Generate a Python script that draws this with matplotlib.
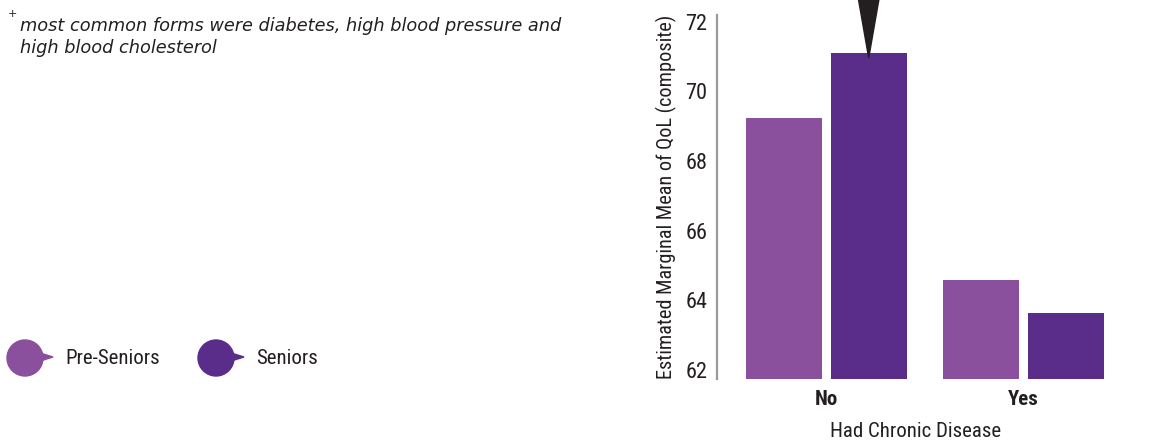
import matplotlib.pyplot as plt
from matplotlib.patches import Ellipse, Polygon
from matplotlib import font_manager

# estimated marginal means of QoL by chronic disease status
disease = ["No", "Yes"]
groups = ["Pre-Seniors", "Seniors"]
pre_seniors = [69.23, 64.58]
seniors = [71.11, 63.63]
y_ticks = [62, 64, 66, 68, 70, 72]

colors = ["#8a4f9d", "#5b2d8b"]
ink = "#231f20"

names = {f.name for f in font_manager.fontManager.ttflist}
cond = "Roboto Condensed" if "Roboto Condensed" in names else "DejaVu Sans"
plt.rcParams["font.family"] = [cond, "DejaVu Sans"]

fig = plt.figure(figsize=(11.5, 4.45), dpi=100)
ax = fig.add_axes([0.6235, 0.1483, 0.346, 0.8177])

x = [0, 1]
w = 0.386
off = 0.215
ax.bar([i - off for i in x], pre_seniors, width=w, color=colors[0], bottom=0)
ax.bar([i + off for i in x], seniors, width=w, color=colors[1], bottom=0)

ax.set_ylim(61.74, 72.19)
ax.set_xlim(-0.555, 1.465)
ax.set_yticks(y_ticks)
ax.set_yticklabels([str(t) for t in y_ticks], fontsize=16, color=ink)
ax.tick_params(axis="y", length=0, pad=7)
ax.set_xticks(x)
ax.set_xticklabels(disease, fontsize=15, fontweight="bold", color=ink)
ax.tick_params(axis="x", length=0, pad=8)

for s in ["top", "right", "bottom"]:
    ax.spines[s].set_visible(False)
ax.spines["left"].set_color("#9a9a9a")
ax.spines["left"].set_linewidth(1.6)

ax.set_ylabel("Estimated Marginal Mean of QoL (composite)", fontsize=14.6, color=ink, labelpad=6)
ax.set_xlabel("Had Chronic Disease", fontsize=15, color=ink, labelpad=9)

# pointer over the tallest bar
tip_x = x[0] + off
tip_y = seniors[0] - 0.15
ax.add_patch(Polygon([(tip_x - 0.063, 73.0), (tip_x + 0.063, 73.0), (tip_x, tip_y)],
                     closed=True, color=ink, clip_on=False, zorder=5))

# footnote
fig.text(0.007, 0.968, "+", fontsize=8, color=ink, va="center", family="DejaVu Sans")
fig.text(0.017, 0.962, "most common forms were diabetes, high blood pressure and\nhigh blood cholesterol",
         fontsize=12.8, style="italic", color=ink, va="top", linespacing=1.3,
         family="DejaVu Sans")

# legend with bubble markers
for cx, label, col in [(25, groups[0], colors[0]), (216, groups[1], colors[1])]:
    cy = 445 - 358
    r = 18
    fig.patches.append(Ellipse((cx / 1150, cy / 445), 2 * r / 1150, 2 * r / 445,
                               transform=fig.transFigure, color=col))
    fig.patches.append(Polygon([((cx + 12) / 1150, (cy + 6) / 445),
                                ((cx + 28) / 1150, (cy + 1) / 445),
                                ((cx + 12) / 1150, (cy - 4) / 445)],
                               closed=True, transform=fig.transFigure, color=col))
    fig.text((cx + 40) / 1150, cy / 445, label, fontsize=15, color=ink, va="center")

fig.savefig("out.png", dpi=100)
